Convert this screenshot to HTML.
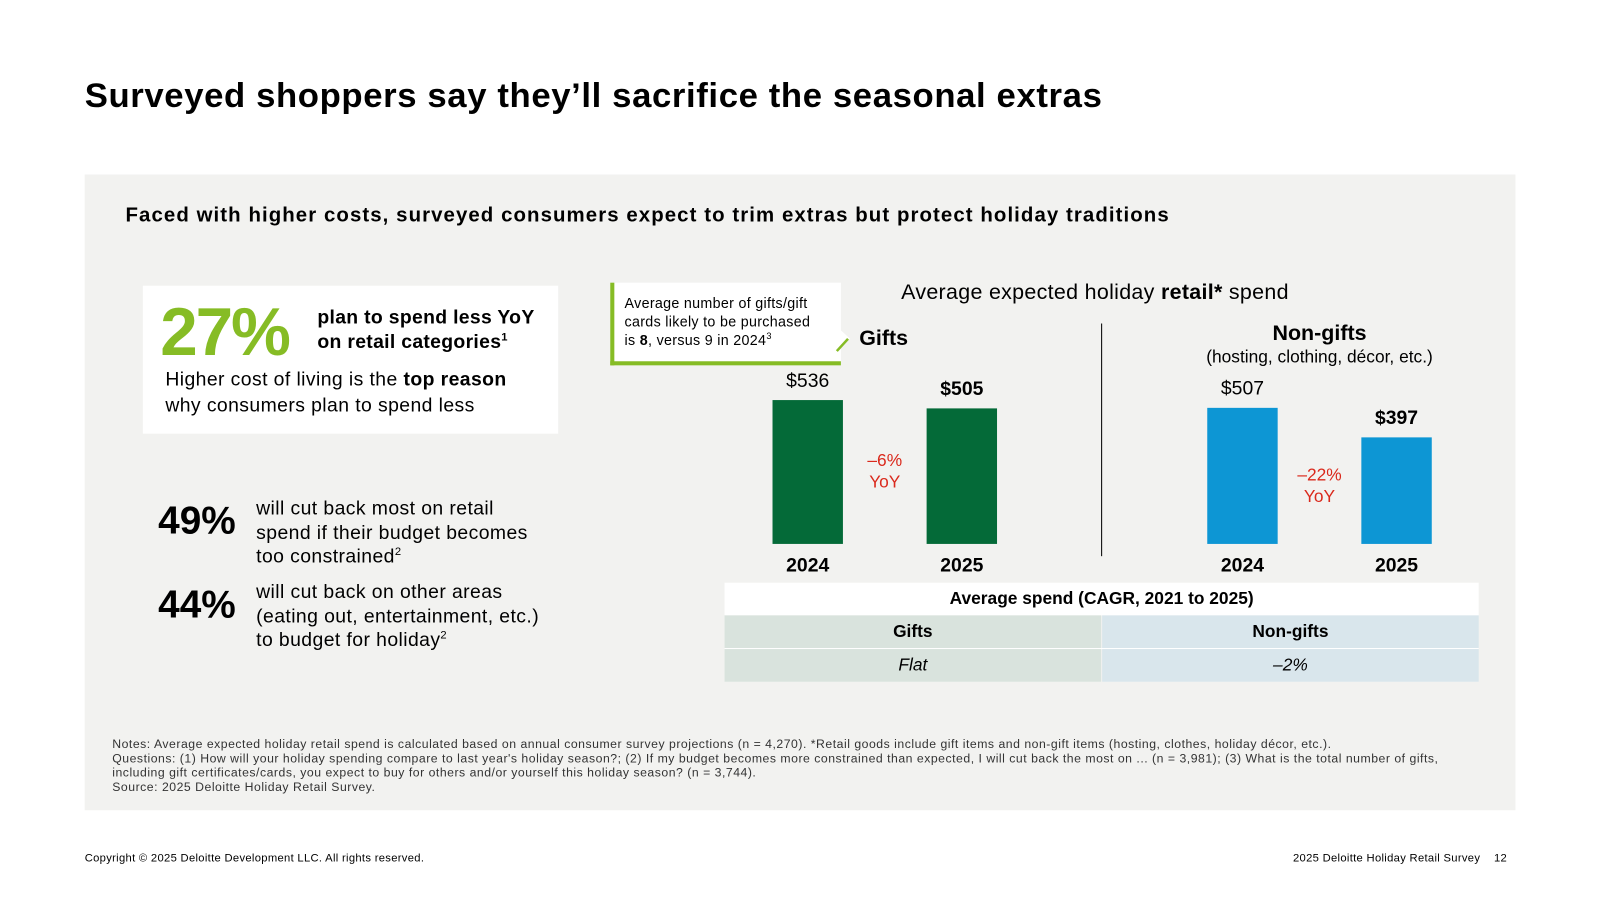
<!DOCTYPE html>
<html><head><meta charset="utf-8"><style>
body{margin:0;width:1600px;height:900px;background:#fff;font-family:"Liberation Sans",sans-serif;position:relative;overflow:hidden;color:#000}
#wrap{position:absolute;left:0;top:0;width:1600px;height:900px;transform:scale(1.0205);transform-origin:0 0}
.a{position:absolute;white-space:nowrap}
</style></head><body><div id="wrap">
<div class="a" style="left:83px;top:75px;font-size:34px;font-weight:bold;letter-spacing:0.6px">Surveyed shoppers say they’ll sacrifice the seasonal extras</div>
<div class="a" style="left:83px;top:171px;width:1402px;height:623px;background:#f2f2f0"></div>
<div class="a" style="left:123px;top:200px;font-size:20px;font-weight:bold;letter-spacing:1.05px">Faced with higher costs, surveyed consumers expect to trim extras but protect holiday traditions</div>

<div class="a" style="left:140px;top:280px;width:407px;height:145px;background:#fff"></div>
<div class="a" style="left:157px;top:287px;font-size:66px;font-weight:bold;color:#86bc25;letter-spacing:-2px">27%</div>
<div class="a" style="left:311px;top:300px;font-size:19px;font-weight:bold;line-height:24px;letter-spacing:0.3px">plan to spend less YoY<br>on retail categories<sup style="font-size:11px;line-height:0">1</sup></div>
<div class="a" style="left:162px;top:360px;font-size:19px;line-height:25px;letter-spacing:0.4px">Higher cost of living is the <b>top reason</b><br>why consumers plan to spend less</div>

<div class="a" style="left:155px;top:490px;font-size:38px;font-weight:bold">49%</div>
<div class="a" style="left:251px;top:487px;font-size:19px;line-height:23.5px;letter-spacing:0.4px">will cut back most on retail<br>spend if their budget becomes<br>too constrained<sup style="font-size:11px;line-height:0">2</sup></div>
<div class="a" style="left:155px;top:572px;font-size:38px;font-weight:bold">44%</div>
<div class="a" style="left:251px;top:569px;font-size:19px;line-height:23.5px;letter-spacing:0.4px">will cut back on other areas<br>(eating out, entertainment, etc.)<br>to budget for holiday<sup style="font-size:11px;line-height:0">2</sup></div>

<div class="a" style="left:598px;top:277px;width:222px;height:77px;background:#fff;border-left:4px solid #86bc25;border-bottom:4px solid #86bc25"></div>
<svg class="a" style="left:815px;top:320px" width="30" height="30"><polygon points="5,0 5,20 18,12" fill="#fff"/><line x1="5" y1="24" x2="16" y2="12" stroke="#86bc25" stroke-width="2.5"/></svg>
<div class="a" style="left:612px;top:288px;font-size:14px;line-height:18px;letter-spacing:0.3px">Average number of gifts/gift<br>cards likely to be purchased<br>is <b>8</b>, versus 9 in 2024<sup style="font-size:9px;line-height:0">3</sup></div>

<div class="a" style="left:883px;top:275px;font-size:21px;letter-spacing:0.3px">Average expected holiday <b>retail*</b> spend</div>
<div class="a" style="left:842px;top:320px;font-size:21px;font-weight:bold">Gifts</div>
<div class="a" style="left:1093px;top:315px;width:400px;text-align:center;font-size:21px;font-weight:bold">Non-gifts</div>
<div class="a" style="left:1093px;top:340px;width:400px;text-align:center;font-size:17px">(hosting, clothing, décor, etc.)</div>
<div class="a" style="left:1079px;top:317px;width:1px;height:228px;background:#000"></div>

<svg id="chart" class="a" style="left:0;top:0" width="1600" height="900"></svg>

<div class="a" style="left:710px;top:571px;width:739px;height:32px;background:#fff;text-align:center;font-size:17px;font-weight:bold;line-height:32px">Average spend (CAGR, 2021 to 2025)</div>
<div class="a" style="left:710px;top:603px;width:369px;height:65px;background:#d9e3dd"></div>
<div class="a" style="left:1080px;top:603px;width:369px;height:65px;background:#d9e6ec"></div>
<div class="a" style="left:710px;top:635px;width:739px;height:1px;background:#fff"></div>
<div class="a" style="left:710px;top:603px;width:369px;text-align:center;line-height:32px;font-size:17px;font-weight:bold">Gifts</div>
<div class="a" style="left:1080px;top:603px;width:369px;text-align:center;line-height:32px;font-size:17px;font-weight:bold">Non-gifts</div>
<div class="a" style="left:710px;top:636px;width:369px;text-align:center;line-height:32px;font-size:17px;font-style:italic">Flat</div>
<div class="a" style="left:1080px;top:636px;width:369px;text-align:center;line-height:32px;font-size:17px;font-style:italic">–2%</div>

<div class="a" style="left:110px;top:722px;font-size:12px;line-height:14px;color:#333;letter-spacing:0.5px">Notes: Average expected holiday retail spend is calculated based on annual consumer survey projections (n = 4,270). *Retail goods include gift items and non-gift items (hosting, clothes, holiday décor, etc.).<br>Questions: (1) How will your holiday spending compare to last year's holiday season?; (2) If my budget becomes more constrained than expected, I will cut back the most on ... (n = 3,981); (3) What is the total number of gifts,<br>including gift certificates/cards, you expect to buy for others and/or yourself this holiday season? (n = 3,744).<br>Source: 2025 Deloitte Holiday Retail Survey.</div>
<div class="a" style="left:83px;top:835px;font-size:11px;letter-spacing:0.3px">Copyright © 2025 Deloitte Development LLC. All rights reserved.</div>
<div class="a" style="left:1267px;top:835px;font-size:11px;letter-spacing:0.3px">2025 Deloitte Holiday Retail Survey &nbsp;&nbsp;&nbsp;12</div>
</div>
<script>
const categories=["2024","2025","2024","2025"];
const values=[536,505,507,397];
const labels=["$536","$505","$507","$397"];
const groups=["gifts","gifts","nongifts","nongifts"];
const yoyLabels=["–6%","–22%"];
const xs=[757,908,1183,1334];
const base=533, k=0.263;
const y=v=>base-v*k;
const svg=document.getElementById('chart');
const NS='http://www.w3.org/2000/svg';
function t(x,yy,s,size,w,fill,name){const e=document.createElementNS(NS,'text');e.setAttribute('x',x);e.setAttribute('y',yy);e.setAttribute('text-anchor','middle');e.setAttribute('font-size',size);e.setAttribute('font-weight',w);e.setAttribute('fill',fill);e.setAttribute('font-family','Liberation Sans, sans-serif');e.textContent=s;


svg.appendChild(e);}
values.forEach((v,i)=>{
 const r=document.createElementNS(NS,'rect');
 r.setAttribute('x',xs[i]);r.setAttribute('y',y(v));r.setAttribute('width',69);r.setAttribute('height',base-y(v));
 r.setAttribute('fill',groups[i]==='gifts'?'#046a38':'#0d96d4');
 
 
 svg.appendChild(r);
 t(xs[i]+34.5,y(v)-13,labels[i],19,i%2?'bold':'normal','#000','value-label');
 t(xs[i]+34.5,560,categories[i],19,'bold','#000','x-label');
});
yoyLabels.forEach((s,g)=>{
 const cx=(xs[g*2]+69+xs[g*2+1])/2;
 const cy=(y(values[g*2+1])+base)/2;
 t(cx,cy-10,s,17,'normal','#da291c','yoy-label');
 t(cx,cy+11,'YoY',17,'normal','#da291c','yoy-label');
});
</script>
</body></html>
